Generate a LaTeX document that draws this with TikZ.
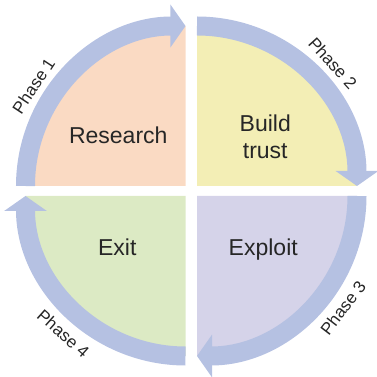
\documentclass[tikz,border=0pt]{standalone}
\usepackage{fontspec}
\setmainfont{Liberation Sans}
\usetikzlibrary{arrows.meta}

\definecolor{bandblue}{RGB}{181,193,226}
\definecolor{peach}{RGB}{250,218,195}
\definecolor{paleyellow}{RGB}{243,238,181}
\definecolor{lavender}{RGB}{213,211,233}
\definecolor{palegreen}{RGB}{220,234,196}

\begin{document}
\begin{tikzpicture}[x=1pt,y=1pt]
        \tikzstyle{band}=[line width=19pt, draw=bandblue, -{Triangle[width=42pt,length=15pt]}]
        \tikzstyle{stage}=[font=\fontsize{23}{27}\selectfont, align=center, text=black!85]
        \tikzstyle{phase}=[font=\fontsize{17}{17}\selectfont, text=black!85]

        \useasboundingbox (-191.25,-186) rectangle (185.75,191);

        \coordinate (q1) at (-5.75,5);
        \coordinate (q2) at (5.75,5);
        \coordinate (q3) at (5.75,-5);
        \coordinate (q4) at (-5.75,-5);

        % quadrants
        \fill[peach] (q1) -- ++(180:160) arc[start angle=180, end angle=90, radius=160] -- cycle;
        \fill[paleyellow] (q2) -- ++(90:160) arc[start angle=90, end angle=0, radius=160] -- cycle;
        \fill[lavender] (q3) -- ++(0:160) arc[start angle=0, end angle=-90, radius=160] -- cycle;
        \fill[palegreen] (q4) -- ++(270:160) arc[start angle=270, end angle=180, radius=160] -- cycle;

        % arrows round the cycle
        \draw[band] ([shift={(180:160)}]q1) arc[start angle=180, end angle=90, radius=160];
        \draw[band] ([shift={(90:160)}]q2) arc[start angle=90, end angle=0, radius=160];
        \draw[band] ([shift={(0:160)}]q3) arc[start angle=0, end angle=-90, radius=160];
        \draw[band] ([shift={(270:160)}]q4) arc[start angle=270, end angle=180, radius=160];

        \node[stage] (research) at (-73,56) {Research};
        \node[stage] (trust) at (74,54) {Build\\trust};
        \node[stage] (exploit) at (72,-59) {Exploit};
        \node[stage] (exit) at (-74,-56) {Exit};

        \node[phase, rotate=56.6] (p1) at ([shift={(146.6:182)}]q1) {Phase 1};
        \node[phase, rotate=-47.9] (p2) at ([shift={(42.1:183)}]q2) {Phase 2};
        \node[phase, rotate=52.5] (p3) at ([shift={(-37.5:184)}]q3) {Phase 3};
        \node[phase, rotate=-41.6] (p4) at ([shift={(228.4:184)}]q4) {Phase 4};
    \end{tikzpicture}
\end{document}
